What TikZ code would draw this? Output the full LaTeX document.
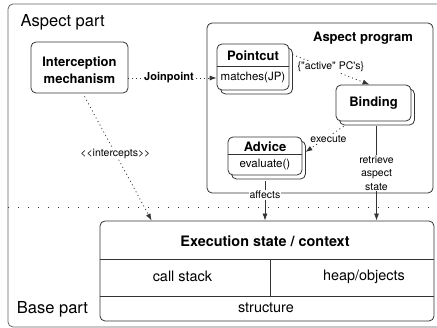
\documentclass[tikz,border=0pt]{standalone}
\usepackage{fontspec}
\setmainfont{TeX Gyre Heros}[Ligatures=TeXOff]
\usetikzlibrary{arrows.meta,positioning,shadows}
\tikzset{
  basic/.style     = {draw=black!80, line width=0.8pt, fill=white,
                      rounded corners=5pt, inner sep=0pt},
  stackbox/.style  = {basic, copy shadow={shadow xshift=3.5pt, shadow yshift=-4pt}},
  boxtitle/.style  = {font=\fontsize{13}{17}\selectfont\bfseries, align=center},
  sublabel/.style  = {font=\fontsize{11.5}{14}\selectfont},
  ctxtext/.style   = {font=\fontsize{14.4}{17}\selectfont},
  partlabel/.style = {font=\fontsize{16.5}{20}\selectfont, anchor=base west, inner sep=0pt},
  arrowlabel/.style= {font=\fontsize{10.5}{13.3}\selectfont, fill=white,
                      inner sep=1pt, align=center},
  divider/.style   = {draw=black!80, line width=0.8pt},
  dotarrow/.style  = {->, divider, dash pattern=on 1pt off 3pt},
  solidarrow/.style= {->, divider}
}

\begin{document}
\begin{tikzpicture}[x=1pt, y=-1pt, >={Latex[length=7pt,width=5pt]}]
\useasboundingbox (0,0) rectangle (437,328);

% frame of the whole picture and the split between the two parts
\draw[black!60, line width=0.8pt, rounded corners=5pt] (8,4) rectangle (460,327);
\draw[divider, dash pattern=on 1pt off 9pt] (8,207.5) -- (437,207.5);
\node[partlabel] (asp)  at (20.5,26.7)  {Aspect part};
\node[partlabel] (base) at (16.7,313.3) {Base part};

% aspect part
\node[basic, minimum width=97pt, minimum height=51pt] (interc) at (79.5,67.5) {};
\node[boxtitle] (interctitle) at (79.5,70) {Interception\\mechanism};
\node[basic, minimum width=226pt, minimum height=170pt] (aprog) at (320,108) {};
\node[boxtitle] (aprogtitle) at (363,38) {Aspect program};

% pointcut, binding and advice
\node[stackbox, minimum width=72pt, minimum height=46pt] (pc) at (253,67) {};
\draw[divider] (pc.west |- 0,66) -- (pc.east |- 0,66);
\node[boxtitle] (pctitle) at (253,56) {Pointcut};
\node[sublabel] (pcbody) at (253,77.5) {matches(JP)};

\node[stackbox, boxtitle, minimum width=75pt, minimum height=36pt] (bind) at (373.5,103) {Binding};

\node[stackbox, minimum width=74pt, minimum height=38pt] (adv) at (265,156) {};
\draw[divider] (adv.west |- 0,154) -- (adv.east |- 0,154);
\node[boxtitle] (advtitle) at (265,146.5) {Advice};
\node[sublabel] (advbody) at (265,164.5) {evaluate()};

% base part
\node[basic, minimum width=334pt, minimum height=100pt] (exec) at (267,271) {};
\draw[divider] (exec.west |- 0,259) -- (exec.east |- 0,259);
\draw[divider] (exec.west |- 0,296) -- (exec.east |- 0,296);
\draw[divider] (270.7,259) -- (270.7,296);
\node[ctxtext, font=\fontsize{14.4}{17}\selectfont\bfseries] (exectitle) at (265,241.5)
  {Execution state / context};
\node[ctxtext] (stack) at (182.4,276.5) {call stack};
\node[ctxtext] (heap)  at (364,276.5)   {heap/objects};
\node[ctxtext] (struc) at (266,308)     {structure};

% connectors
\coordinate (jp) at ([yshift=-11pt]pc.west);
\draw[dotarrow] (jp -| interc.east) -- node[arrowlabel, pos=0.46, font=\fontsize{11}{13}\selectfont\bfseries]
  {Joinpoint} (jp);
\draw[dotarrow] ([shift={(3pt,-11pt)}]pc.north east) -- node[arrowlabel, pos=0.5, yshift=3pt]
  {\{"active" PC's\}} ([xshift=-4pt]bind.north);
\draw[dotarrow] ([shift={(8pt,-5pt)}]bind.south west) -- node[arrowlabel, xshift=4pt]
  {execute} ([shift={(3pt,4pt)}]adv.east);
\coordinate (rt) at ([shift={(3pt,-4.5pt)}]bind.south);
\draw[solidarrow] (rt) -- node[arrowlabel] {retrieve\\aspect\\state} (rt |- exec.north);
\coordinate (af) at ([yshift=-6pt]adv.south);
\draw[solidarrow] (af) -- node[arrowlabel, pos=0.35] {affects} (af |- exec.north);
\draw[dotarrow] ([shift={(5pt,-3pt)}]interc.south) -- node[arrowlabel, pos=0.46]
  {<<intercepts>>} ([xshift=52pt]exec.north west);

\end{tikzpicture}
\end{document}
